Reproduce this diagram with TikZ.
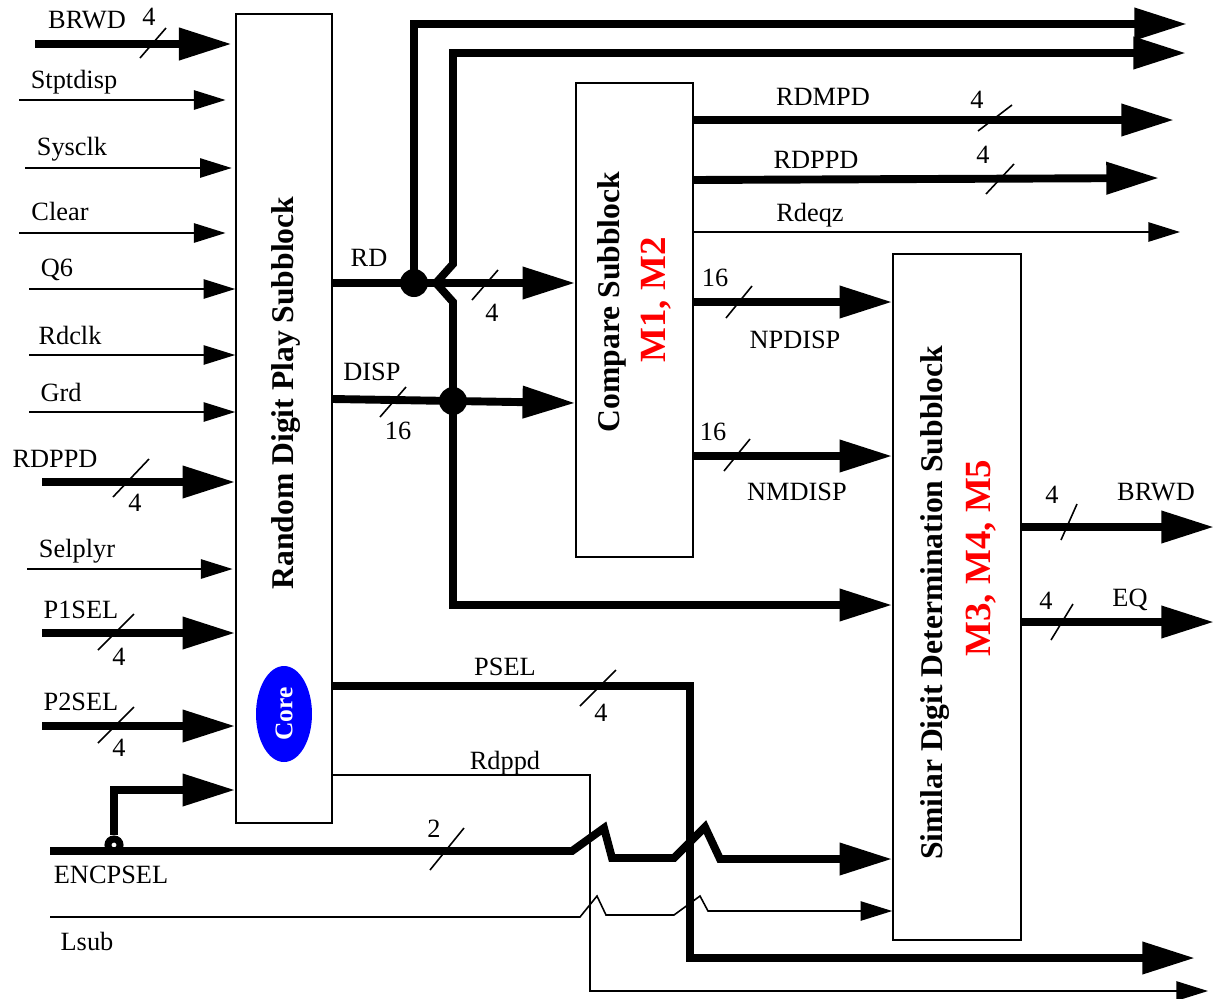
\documentclass[tikz,border=0pt]{standalone}
\usepackage{fontspec}
\setmainfont{Liberation Serif}
\usetikzlibrary{arrows.meta,shapes.geometric}

\begin{document}
\begin{tikzpicture}[x=.02cm,y=-.02cm,blk/.style={draw,line width=.9pt,inner sep=0pt},ttl/.style={rotate=90,font=\fontsize{18}{21}\selectfont\bfseries},mods/.style={rotate=90,text=red,font=\fontsize{21}{25}\selectfont\bfseries},lbl/.style={inner sep=0pt,text height=10pt,text depth=0pt,font=\fontsize{15}{18}\selectfont},bus/.style={line width=4.5pt,-{Triangle[length=30pt,width=17.5pt]}},wire/.style={line width=.9pt,-{Triangle[length=18pt,width=11pt]}},tick/.style={line width=.9pt},jdot/.style={circle,fill,inner sep=0pt,minimum size=.56cm}]
\useasboundingbox (0,0) rectangle (1214,998);
% subblocks
\node[blk,minimum width=1.92cm,minimum height=16.18cm] (rdp) at (284,418.5) {};
\node[blk,minimum width=2.34cm,minimum height=9.48cm] (cmp) at (634.5,320) {};
\node[blk,minimum width=2.56cm,minimum height=13.72cm] (sdd) at (957,597) {};
\node[ttl] (rdpt) at (286,393) {Random Digit Play Subblock};
\node[ttl] (cmpt) at (612,302) {Compare Subblock};
\node[mods] (cmpm) at (656,300) {M1, M2};
\node[ttl] (sddt) at (935,603) {Similar Digit Determination Subblock};
\node[mods] (sddm) at (981,558) {M3, M4, M5};
\node[ellipse,fill=blue,rotate=90,minimum width=1.92cm,minimum height=1.12cm,inner sep=0pt,text=white,font=\fontsize{14.5}{17}\selectfont\bfseries] (core) at (284,714) {Core};
% inputs of the play subblock
\coordinate (brwdi) at (35,44); \coordinate (stpti) at (19,100); \coordinate (sysi) at (25,168); \coordinate (clri) at (19,233);
\coordinate (q6i) at (29,289); \coordinate (rdclki) at (29,355); \coordinate (grdi) at (29,412); \coordinate (rdppdi) at (42,482);
\coordinate (selpi) at (27,569); \coordinate (p1i) at (42,633); \coordinate (p2i) at (42,726);
\draw[bus,shorten >=2pt] (brwdi) -- (brwdi -| rdp.west);
\foreach \s/\g in {stpti/5.5pt,sysi/2pt,clri/5.5pt,q6i/0pt,rdclki/0pt,grdi/0pt,selpi/1.5pt} \draw[wire,shorten >=\g] (\s) -- (\s -| rdp.west);
\foreach \s in {rdppdi,p1i,p2i} \draw[bus] (\s) -- (\s -| rdp.west);
\node[lbl] (brwdl) at (87,20) {BRWD}; \node[lbl] (stptl) at (74,80) {Stptdisp}; \node[lbl] (sysl) at (72,147) {Sysclk};
\node[lbl] (clrl) at (60,212) {Clear}; \node[lbl] (q6l) at (57,268) {Q6}; \node[lbl] (rdclkl) at (70,336) {Rdclk};
\node[lbl] (grdl) at (61,393) {Grd}; \node[lbl] (rdppdl) at (55,459) {RDPPD}; \node[lbl] (selpl) at (77,549) {Selplyr};
\node[lbl] (p1l) at (81,610) {P1SEL}; \node[lbl] (p2l) at (81,702) {P2SEL}; \node[lbl] (encl) at (111,875) {ENCPSEL};
\node[lbl] (lsubl) at (87,942) {Lsub};
% RD and DISP buses
\node[jdot] (rddot) at (414,283) {};
\node[jdot] (dispdot) at (453,401) {};
\coordinate (fork) at (436,283); \coordinate (top1) at (1187,24); \coordinate (top2) at (1186,53);
\draw[bus] (rdp.east |- rddot) -- (cmp.west |- rddot);
\draw[bus] (rddot.center) |- (top1);
\draw[bus] (fork) -- (453,264) |- (top2);
\draw[bus] (fork) -- (453,302) -- (dispdot.center) |- (sdd.west |- 0,605);
\draw[bus] (rdp.east |- 0,399) -- (cmp.west |- 0,403);
\node[lbl] (rdl) at (369,258) {RD}; \node[lbl] (displ) at (372,372) {DISP};
% compare outputs
\coordinate (rdmpdo) at (1174,120); \coordinate (rdppdo) at (1159,178); \coordinate (eqzo) at (1180,232);
\draw[bus] (cmp.east |- rdmpdo) -- (rdmpdo);
\draw[bus] (cmp.east |- 0,180) -- (rdppdo);
\draw[wire] (cmp.east |- eqzo) -- (eqzo);
\draw[bus] (cmp.east |- 0,302) -- (sdd.west |- 0,302);
\draw[bus] (cmp.east |- 0,456) -- (sdd.west |- 0,456);
\node[lbl] (rdmpdl) at (823,97) {RDMPD}; \node[lbl] (rdppdol) at (816,160) {RDPPD}; \node[lbl] (eqzl) at (810,213) {Rdeqz};
\node[lbl] (npl) at (795,340) {NPDISP}; \node[lbl] (nml) at (797,492) {NMDISP};
% similar subblock outputs
\coordinate (brwdo) at (1214,527); \coordinate (eqo) at (1214,622);
\draw[bus] (sdd.east |- brwdo) -- (brwdo);
\draw[bus] (sdd.east |- eqo) -- (eqo);
\node[lbl] (brwdol) at (1156,492) {BRWD}; \node[lbl] (eql) at (1130,598) {EQ};
% PSEL, Rdppd, ENCPSEL, Lsub
\coordinate (pselo) at (1195,958); \coordinate (rdppdend) at (1208,991);
\draw[bus] (rdp.east |- 0,686) -- (690,686) |- (pselo);
\draw[wire] (rdp.east |- 0,775) -- (590,775) |- (rdppdend);
\node[lbl] (psell) at (505,667) {PSEL}; \node[lbl] (rdppdl2) at (505,761) {Rdppd};
\coordinate (enci) at (50,851); \coordinate (lsubi) at (50,917);
\node[circle,draw,line width=4pt,minimum size=.24cm,inner sep=0pt] (encdot) at (114,845) {};
\draw[bus] (enci) -- (572,851) -- (604,828) -- (612,858) -- (674,858) -- (705,827) -- (720,859) -- (sdd.west |- 0,859);
\draw[bus] (encdot.north) |- (rdp.west |- 0,790);
\draw[wire] (lsubi) -- (580,917) -- (597,896) -- (606,915) -- (674,915) -- (700,896) -- (708,911) -- (sdd.west |- 0,911);
% bus widths
\foreach \x/\y/\a/\b in {153/43/13/15,131/478/18/19,116/632/18/18,116/725/18/18,485/285/13/15,393/402/13/15,995/118/17/13,1000/179/14/15,739/302/13/16,737/455/13/16,1069/522/8/18,1062/622/11/18,598/688/18/18,447/849/17/21} \draw[tick] (\x-\a,\y+\b) -- (\x+\a,\y-\b);
\foreach \x/\y/\t [count=\i] in {149/17/4,135/503/4,119/657/4,119/748/4,492/313/4,398/431/16,977/100/4,983/155/4,715/278/16,713/432/16,1052/495/4,1046/601/4,601/713/4,434/829/2} \node[lbl] (bw\i) at (\x,\y) {\t};
\end{tikzpicture}
\end{document}
